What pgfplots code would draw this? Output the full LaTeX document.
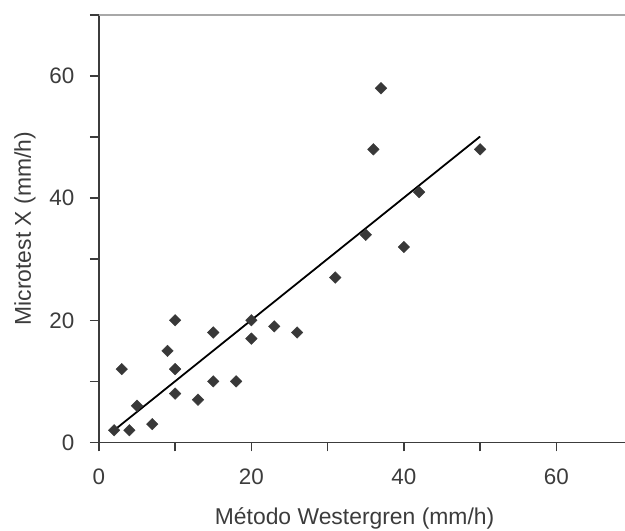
\documentclass[border=0pt]{standalone}
\usepackage{pgfplots}
\pgfplotsset{compat=1.18}
\usepackage{fontspec}
\setmainfont{Liberation Sans}
\definecolor{txt}{HTML}{3C3C3C}
\definecolor{mk}{HTML}{383838}
\definecolor{topline}{HTML}{A8A8A8}
\begin{document}
\begin{tikzpicture}
\begin{axis}[
  scale only axis,
  width=526.8bp, height=428bp,
  xmin=0, xmax=69, ymin=0, ymax=70,
  axis x line*=bottom, axis y line*=left,
  axis line style={line width=1.5bp, color=txt, -},
  xtick={0,10,...,60}, xticklabels={0,,20,,40,,60},
  ytick={0,10,...,70}, yticklabels={0,,20,,40,,60,},
  tick align=outside, major tick length=9bp,
  tick style={line width=1.5bp, color=txt},
  /pgf/number format/assume math mode=true,
  tick label style={font=\fontsize{22.5}{22.5}\selectfont, text=txt},
  xticklabel style={yshift=-14bp},
  yticklabel style={xshift=-12bp},
  label style={font=\fontsize{23}{23}\selectfont, text=txt},
  xlabel={Método Westergren (mm/h)},
  ylabel={Microtest X (mm/h)},
  xlabel style={at={(axis description cs:0.486,0)}, anchor=base, yshift=-82bp},
  ylabel style={at={(axis description cs:0,0.5)}, anchor=center, yshift=74bp},
  clip=false,
]
\addplot[only marks, mark=square*, mark size=4.1bp, mark options={rotate=45, fill=mk, draw=mk}]
coordinates {
(2,2) (4,2) (3,12) (5,6) (7,3) (9,15) (10,20) (10,12) (10,8) (13,7)
(15,18) (15,10) (18,10) (20,20) (20,17) (23,19) (26,18) (31,27) (35,34)
(36,48) (37,58) (40,32) (42,41) (50,48)
};
\addplot[black, line width=1.8bp] coordinates {(2,2) (50,50.1)};
\draw[topline, line width=1.5bp] (rel axis cs:0,1) -- (rel axis cs:1,1);
\coordinate (sw) at (rel axis cs:0,0);
\coordinate (ne) at (rel axis cs:1,1);
\end{axis}
\pgfresetboundingbox
\path ([xshift=-99bp,yshift=-88bp]sw) rectangle ([yshift=15bp]ne);
\end{tikzpicture}
\end{document}
